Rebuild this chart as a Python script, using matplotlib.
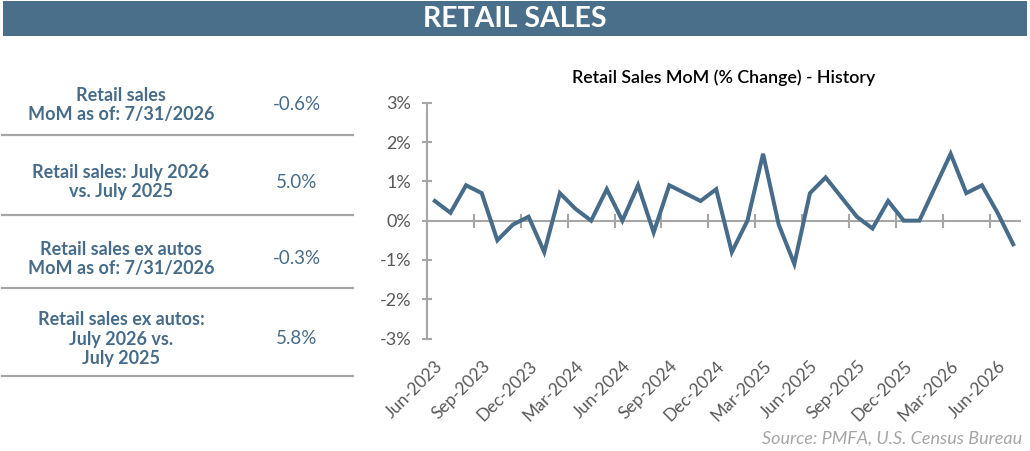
import matplotlib
matplotlib.use("Agg")
import matplotlib.pyplot as plt
from matplotlib.patches import Rectangle
from matplotlib.lines import Line2D
import numpy as np

# monthly retail sales MoM % change, Jun-2023 .. Jul-2026
months = ["Jun-2023", "Jul-2023", "Aug-2023", "Sep-2023", "Oct-2023", "Nov-2023",
          "Dec-2023", "Jan-2024", "Feb-2024", "Mar-2024", "Apr-2024", "May-2024",
          "Jun-2024", "Jul-2024", "Aug-2024", "Sep-2024", "Oct-2024", "Nov-2024",
          "Dec-2024", "Jan-2025", "Feb-2025", "Mar-2025", "Apr-2025", "May-2025",
          "Jun-2025", "Jul-2025", "Aug-2025", "Sep-2025", "Oct-2025", "Nov-2025",
          "Dec-2025", "Jan-2026", "Feb-2026", "Mar-2026", "Apr-2026", "May-2026",
          "Jun-2026", "Jul-2026"]
mom = [0.5, 0.2, 0.9, 0.7, -0.5, -0.1, 0.1, -0.8, 0.7, 0.3, 0.0, 0.8,
       0.0, 0.9, -0.3, 0.9, 0.7, 0.5, 0.8, -0.8, 0.0, 1.7, -0.1, -1.1,
       0.7, 1.1, 0.6, 0.1, -0.2, 0.5, 0.0, 0.0, 0.85, 1.7, 0.7, 0.9,
       0.2, -0.6]

# summary table on the left
table_labels = ["Retail sales\nMoM as of: 7/31/2026",
                "Retail sales: July 2026\nvs. July 2025",
                "Retail sales ex autos\nMoM as of: 7/31/2026",
                "Retail sales ex autos:\nJuly 2026 vs.\nJuly 2025"]
table_values = ["-0.6%", "5.0%", "-0.3%", "5.8%"]

yticks = [-3, -2, -1, 0, 1, 2, 3]

blue = "#466C89"
grey_line = "#A6A6A6"
grey_txt = "#595959"

plt.rcParams['font.family'] = ['Lato', 'DejaVu Sans']

W, H = 1030, 451
fig = plt.figure(figsize=(W / 100, H / 100), dpi=100)

def fx(px):
    return px / W

def fy(py):
    return 1 - py / H

# header banner
fig.add_artist(Rectangle((fx(3), fy(36)), fx(1027) - fx(3), fy(1) - fy(36),
                         transform=fig.transFigure, color="#4A6F8A", lw=0))
fig.text(fx(515), fy(19), "RETAIL SALES", color="white", fontsize=20.5,
         fontweight="bold", ha="center", va="center")

# left table
row_y = [105, 182, 259, 339]
sep_y = [135, 215, 288, 376]
for lab, val, yy in zip(table_labels, table_values, row_y):
    fig.text(fx(121), fy(yy), lab, color=blue, fontsize=13, fontweight="bold",
             ha="center", va="center", linespacing=1.2)
    fig.text(fx(297), fy(yy), val, color=blue, fontsize=13.5,
             ha="center", va="center")
for yy in sep_y:
    fig.add_artist(Line2D([fx(2), fx(353)], [fy(yy), fy(yy)],
                          transform=fig.transFigure, color=grey_line, lw=1.6))

# line chart
ax = fig.add_axes([fx(427), fy(338.6), fx(1021) - fx(427), fy(102.7) - fy(338.6)])
x = np.arange(len(mom))
ax.plot(x, mom, color=blue, lw=2.9, solid_joinstyle="miter", clip_on=False)

ax.set_xlim(-0.5, len(mom) - 0.5)
ax.set_ylim(-3, 3)
ax.set_yticks(yticks)
ax.set_yticklabels([f"{v}%" for v in yticks])

label_idx = x[::3]
ax.set_xticks(label_idx)
ax.set_xticklabels([months[i] for i in label_idx], rotation=45, ha="right",
                   rotation_mode="anchor")

for s in ["top", "right", "bottom"]:
    ax.spines[s].set_visible(False)
ax.spines["left"].set_color(grey_line)
ax.spines["left"].set_linewidth(1.5)
ax.axhline(0, color=grey_line, lw=1.5, zorder=1)

ax.tick_params(axis="y", length=7, width=1.5, direction="inout", color=grey_line,
               labelsize=13, labelcolor=grey_txt, pad=8)
ax.tick_params(axis="x", which="major", length=0, labelsize=12.5,
               labelcolor=grey_txt, pad=14)

# category boundary tick marks sit on the zero line
for b in np.arange(2.5, len(mom) - 1, 3):
    ax.plot([b, b], [-0.15, 0.15], color=grey_line, lw=1.5, zorder=1)

ax.set_title("Retail Sales MoM (% Change) - History", fontsize=12.8,
             fontweight="semibold", color="black", pad=14)

fig.text(fx(1022), fy(439), "Source: PMFA, U.S. Census Bureau", color="#A6A6A6",
         fontsize=13, style="italic", ha="right", va="center")

fig.savefig("out.png", dpi=100)
